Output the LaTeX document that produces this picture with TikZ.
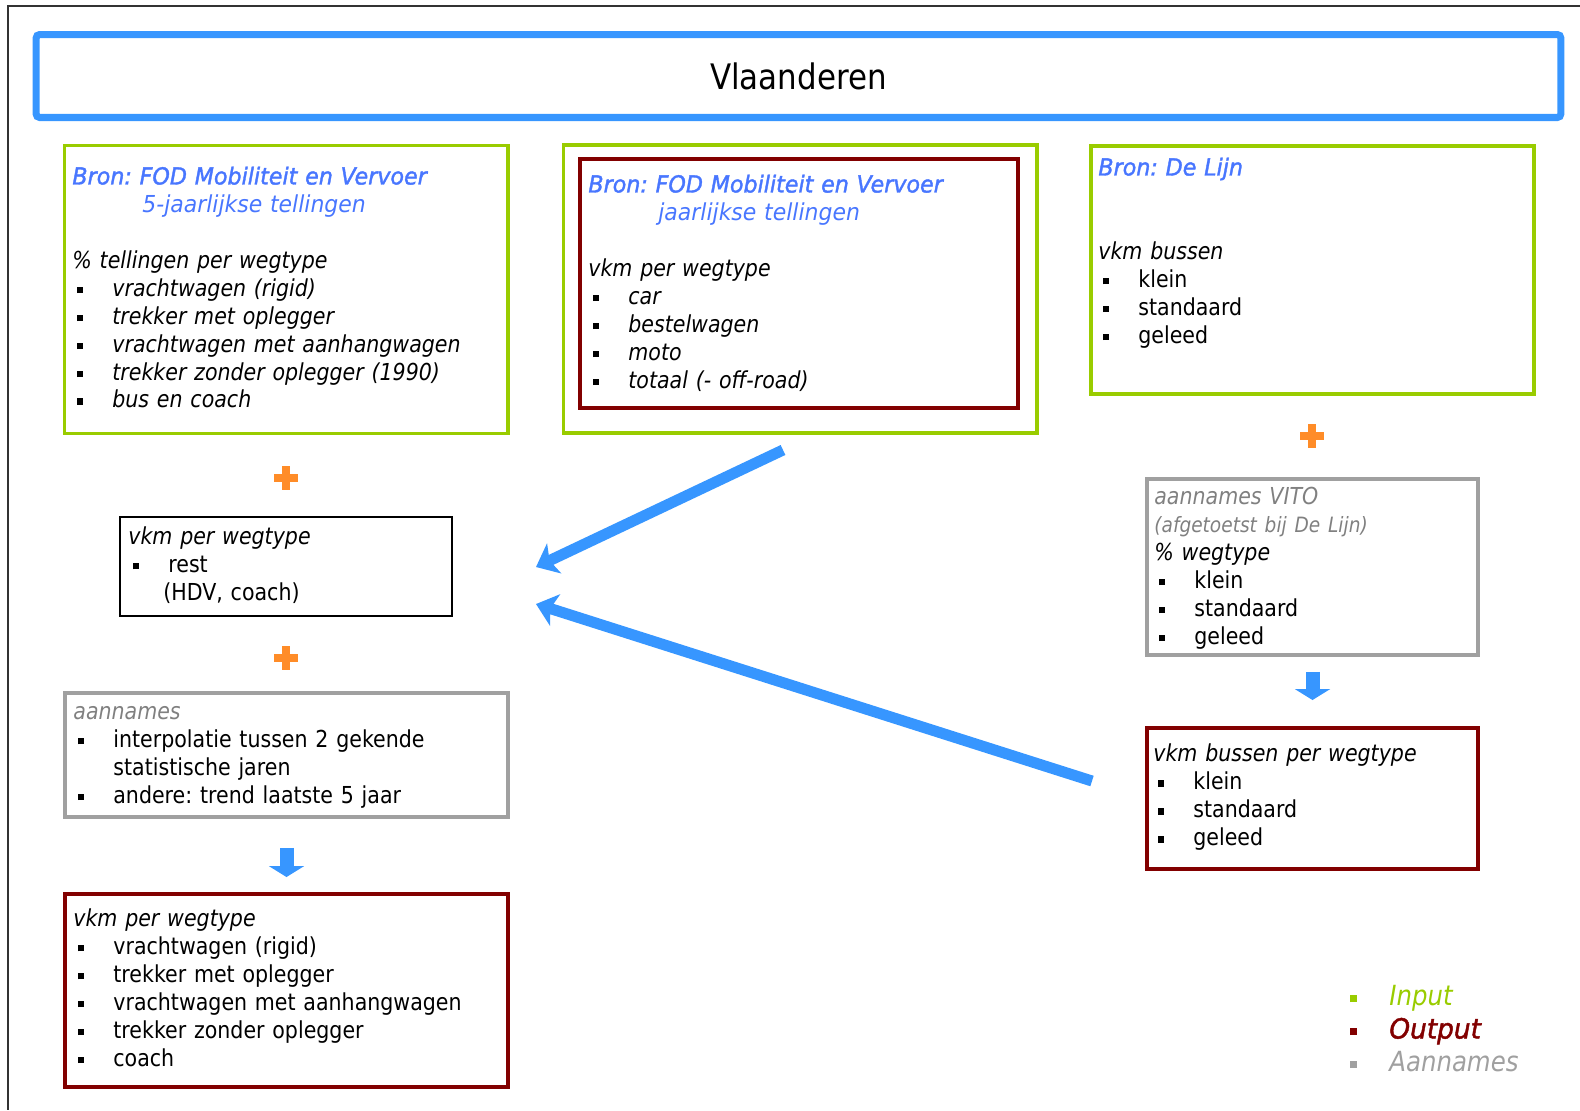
\documentclass[tikz,border=0pt]{standalone}
\usepackage{fontspec}
\setmainfont{DejaVu Sans}[FakeStretch=0.88]
\newfontfamily\bronfont{DejaVu Sans}[FakeStretch=0.95, FakeBold=1.6]
\newfontfamily\bronlicht{DejaVu Sans}[FakeStretch=0.94]
\usetikzlibrary{arrows.meta}
\frenchspacing

\definecolor{titelblauw}{RGB}{55,150,255}
\definecolor{bronblauw}{RGB}{72,118,255}
\definecolor{invoergroen}{RGB}{153,204,0}
\definecolor{uitvoerrood}{RGB}{130,0,0}
\definecolor{aannamegrijs}{RGB}{160,160,160}
\definecolor{tekstgrijs}{RGB}{128,128,128}
\definecolor{plusoranje}{RGB}{255,140,40}

\newcommand{\bol}{\makebox[0.8cm][l]{\hspace{0.09cm}\rule[0.13em]{0.13cm}{0.13cm}}}
\newcommand{\legbol}[1]{\makebox[0.78cm][l]{\textcolor{#1}{\rule[0.12em]{0.14cm}{0.14cm}}}}
\newcommand{\bron}[1]{{\color{bronblauw}\bronfont\itshape #1}}
\newcommand{\bronsub}[1]{{\color{bronblauw}\bronlicht\itshape #1}}

\begin{document}
\begin{tikzpicture}[x=0.02cm, y=-0.02cm,
    kader/.style={
% The shape:
      rectangle, inner sep=0pt, outer sep=0pt,
% The border:
      draw, line width=1.4pt
    },
    titel/.style={kader, draw=titelblauw, line width=4pt, rounded corners=2pt,
      font=\fontsize{20pt}{24pt}\selectfont},
    invoer/.style={kader, draw=invoergroen, line width=2pt},
    uitvoer/.style={kader, draw=uitvoerrood, line width=2.3pt},
    aanname/.style={kader, draw=aannamegrijs, line width=2pt},
% The texts in the boxes:
    tekst/.style={anchor=north west, inner sep=0pt, text width=9cm, align=left,
      font=\fontsize{13.3pt}{15.9pt}\selectfont},
    plusje/.style={draw=plusoranje, line width=4.5pt},
    blokpijl/.style={draw=titelblauw, line width=0.28cm,
      -{Triangle[length=0.22cm, width=0.7cm]}},
    schuinpijl/.style={draw=titelblauw, line width=0.22cm,
      -{Stealth[length=0.4cm, width=0.66cm, inset=0.1cm]}}
  ]
  \useasboundingbox (0,0) rectangle (1580,1110);
  \draw[line width=1.1pt, black!80] (1580,6) -- (8,6) -- (8,1110);

  % title
  \node[titel, minimum width=30.5cm, minimum height=1.66cm] (vlaanderen) at (798.5,76) {Vlaanderen};

  % left column
  \node[invoer, minimum width=8.87cm, minimum height=5.76cm] (bronfod5) at (286.25,289.5) {};
  \node[tekst] (bronfod5tekst) at ([shift={(7.5,19)}]bronfod5.north west) {\strut\bron{Bron: FOD Mobiliteit en Vervoer}\\
    \hspace*{1.4cm}\bronsub{5-jaarlijkse tellingen}\\[0.56cm]
    \itshape \% tellingen per wegtype\\
    \bol vrachtwagen (rigid)\\
    \bol trekker met oplegger\\
    \bol vrachtwagen met aanhangwagen\\
    \bol trekker zonder oplegger (1990)\\
    \bol bus en coach};

  \node[kader, minimum width=6.64cm, minimum height=1.98cm] (rest) at (286,566.5) {};
  \node[tekst] (resttekst) at ([shift={(8,7.5)}]rest.north west) {\strut{\itshape vkm per wegtype}\\
    \bol rest\\
    \hspace*{0.7cm}(HDV, coach)};

  \node[aanname, minimum width=8.86cm, minimum height=2.48cm] (aannames) at (286.5,755) {};
  \node[tekst] (aannamestekst) at ([shift={(8,6.5)}]aannames.north west) {\strut{\color{tekstgrijs}\itshape aannames}\\
    \bol interpolatie tussen 2 gekende\\
    \hspace*{0.8cm}statistische jaren\\
    \bol andere: trend laatste 5 jaar};

  \node[uitvoer, minimum width=8.86cm, minimum height=3.86cm] (vkmuit) at (286.5,990.5) {};
  \node[tekst] (vkmuittekst) at ([shift={(8,12.5)}]vkmuit.north west) {\strut{\itshape vkm per wegtype}\\
    \bol vrachtwagen (rigid)\\
    \bol trekker met oplegger\\
    \bol vrachtwagen met aanhangwagen\\
    \bol trekker zonder oplegger\\
    \bol coach};

  % middle column
  \node[invoer, minimum width=9.47cm, minimum height=5.76cm] (bronfodj) at (800.25,289) {};
  \node[uitvoer, minimum width=8.76cm, minimum height=4.98cm] (vkmfod) at (799,283.5) {};
  \node[tekst] (vkmfodtekst) at ([shift={(8,13.5)}]vkmfod.north west) {\strut\bron{Bron: FOD Mobiliteit en Vervoer}\\
    \hspace*{1.4cm}\bronsub{jaarlijkse tellingen}\\[0.56cm]
    \itshape vkm per wegtype\\
    \bol car\\
    \bol bestelwagen\\
    \bol moto\\
    \bol totaal (- off-road)};

  % right column
  \node[invoer, minimum width=8.86cm, minimum height=4.96cm] (delijn) at (1312.5,270) {};
  \node[tekst] (delijntekst) at ([shift={(7,9.5)}]delijn.north west) {\strut\bron{Bron: De Lijn}\\[1.12cm]
    {\itshape vkm bussen}\\
    \bol klein\\
    \bol standaard\\
    \bol geleed};

  \node[aanname, minimum width=6.62cm, minimum height=3.52cm] (vito) at (1312.5,567) {};
  \node[tekst] (vitotekst) at ([shift={(7,5.5)}]vito.north west) {\strut{\color{tekstgrijs}\itshape aannames VITO}\\
    {\color{tekstgrijs}\itshape\fontsize{12pt}{15.9pt}\selectfont (afgetoetst bij De Lijn)}\\
    {\itshape \% wegtype}\\
    \bol klein\\
    \bol standaard\\
    \bol geleed};

  \node[uitvoer, minimum width=6.62cm, minimum height=2.82cm] (vkmbus) at (1312.5,798.5) {};
  \node[tekst] (vkmbustekst) at ([shift={(6,14)}]vkmbus.north west) {\strut{\itshape vkm bussen per wegtype}\\
    \bol klein\\
    \bol standaard\\
    \bol geleed};

  % legend
  \node[tekst, text width=5cm, font=\fontsize{15.8pt}{18.8pt}\selectfont\itshape] (legenda) at (1350,982) {\strut
    \legbol{invoergroen}\textcolor{invoergroen}{Input}\\
    \legbol{uitvoerrood}\textcolor{uitvoerrood}{\bronfont\itshape Output}\\
    \legbol{aannamegrijs}\textcolor{aannamegrijs}{Aannames}};

  % plus signs
  \foreach \x/\y in {286/478, 286/658, 1312/436}
    \draw[plusje] (\x-12,\y) -- (\x+12,\y) (\x,\y-12) -- (\x,\y+12);

  % arrows
  \draw[blokpijl, shorten <=0.62cm, shorten >=0.34cm] (aannames.south) -- (vkmuit.north);
  \draw[blokpijl, shorten <=0.34cm, shorten >=0.56cm] (vito.south) -- (vkmbus.north);

  \coordinate (pijl1start) at (783,450);
  \coordinate (pijl1eind) at (536,567);
  \coordinate (pijl2start) at (1092,781);
  \coordinate (pijl2eind) at (536,604);
  \draw[schuinpijl] (pijl1start) -- (pijl1eind);
  \draw[schuinpijl] (pijl2start) -- (pijl2eind);
\end{tikzpicture}
\end{document}
